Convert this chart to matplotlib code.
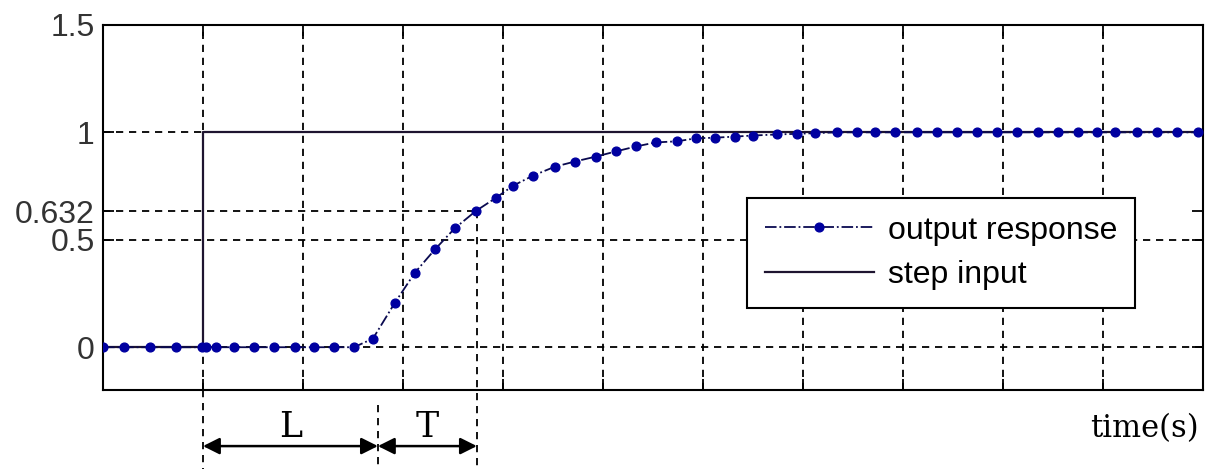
# -*- coding: utf-8 -*-
"""
Step response of a first order plus dead time process, with L and T marked
"""

import matplotlib
matplotlib.use('Agg')
import matplotlib.pyplot as plt

t_out = [0.0, 0.21, 0.47, 0.73, 0.99, 1.03, 1.13, 1.31, 1.51, 1.71, 1.92,
         2.11, 2.31, 2.51, 2.70, 2.92, 3.12, 3.32, 3.52, 3.73, 3.93, 4.10,
         4.30, 4.52, 4.72, 4.93, 5.13, 5.33, 5.53, 5.74, 5.93, 6.12, 6.32,
         6.50, 6.74, 6.94, 7.12, 7.34, 7.54, 7.72, 7.92, 8.14, 8.34, 8.54,
         8.74, 8.94, 9.14, 9.35, 9.55, 9.75, 9.94, 10.12, 10.34, 10.54,
         10.74, 10.95]
y_out = [0, 0, 0, 0, 0, 0, 0, 0, 0, 0, 0, 0, 0, 0, 0.04, 0.207, 0.347,
         0.455, 0.554, 0.634, 0.695, 0.751, 0.798, 0.840, 0.864, 0.887,
         0.911, 0.934, 0.953, 0.958, 0.972, 0.975, 0.98, 0.985, 0.99, 0.993,
         0.996, 1, 1, 1, 1, 1, 1, 1, 1, 1, 1, 1, 1, 1, 1, 1, 1, 1, 1, 1]

# step input
t_step = [0, 1, 1, 11]
y_step = [0, 0, 1, 1]

# dead time L and time constant T
t_start = 1.0
t_L = 2.75
t_T = 3.74
y_63 = 0.632

yticks = [0, 0.5, 0.632, 1, 1.5]
yticklabels = ['0', '0.5', '0.632', '1', '1.5']

plt.rcParams['font.family'] = ['Liberation Sans', 'DejaVu Sans']

fig = plt.figure(figsize=(12.05, 4.69), dpi=100)
ax = fig.add_axes([0.0855, 0.168, 0.9125, 0.779])

l_step, = ax.plot(t_step, y_step, color='#1e1430', lw=1.6,
                  label='step input', zorder=3)
l_out, = ax.plot(t_out, y_out, color='#0a0a50', ls='-.', lw=1.3,
                 marker='o', ms=6.3, mfc='#0000a0', mec='#0000a0',
                 label='output response', zorder=4)

ax.set_xlim(0, 11)
ax.set_ylim(-0.2, 1.5)
ax.set_xticks(range(0, 12))
ax.set_xticklabels([])
ax.set_yticks(yticks)
ax.set_yticklabels(yticklabels, fontsize=23, color='#333333')
ax.tick_params(direction='in', length=8, width=1.3, top=True, right=True,
               pad=6)

# grid only at the regular ticks, not 0.632
dash = (0, (4, 3.2))
for xv in range(1, 11):
    ax.axvline(xv, color='black', ls=dash, lw=1.3, zorder=1)
for yv in [0, 0.5, 1]:
    ax.axhline(yv, color='black', ls=dash, lw=1.3, zorder=1)

for sp in ax.spines.values():
    sp.set_linewidth(1.5)

# 63.2 % marker lines
ax.plot([0, t_T], [y_63, y_63], color='black', ls=dash, lw=1.3, zorder=1)
ax.plot([t_T, t_T], [y_63, -0.58], color='black', ls=dash, lw=1.3,
        clip_on=False, zorder=1)
ax.plot([t_start, t_start], [-0.2, -0.58], color='black', ls=dash, lw=1.3,
        clip_on=False)
ax.plot([t_L, t_L], [-0.27, -0.58], color='black', ls=dash, lw=1.3,
        clip_on=False)

# L and T arrows
arrow_y = -0.46
for a, b in [(t_start, t_L), (t_L, t_T)]:
    ax.annotate('', xy=(a, arrow_y), xytext=(b, arrow_y),
                arrowprops=dict(arrowstyle='<|-|>', color='black', lw=1.8,
                                mutation_scale=25, shrinkA=0, shrinkB=0),
                annotation_clip=False)
ax.text((t_start + t_L) / 2, -0.37, 'L', fontsize=25, family='DejaVu Serif',
        ha='center', va='center')
ax.text((t_L + t_T) / 2, -0.37, 'T', fontsize=25, family='DejaVu Serif',
        ha='center', va='center')
ax.text(10.42, -0.38, 'time(s)', fontsize=22, family='DejaVu Serif',
        ha='center', va='center')

leg = ax.legend([l_out, l_step], ['output response', 'step input'],
                loc='upper left', bbox_to_anchor=(0.586, 0.526),
                borderaxespad=0, fontsize=23, fancybox=False, framealpha=1,
                edgecolor='black', handlelength=3.4, labelspacing=0.45,
                borderpad=0.55, handletextpad=0.45)
leg.get_frame().set_linewidth(1.5)

fig.savefig('out.png', dpi=100)
